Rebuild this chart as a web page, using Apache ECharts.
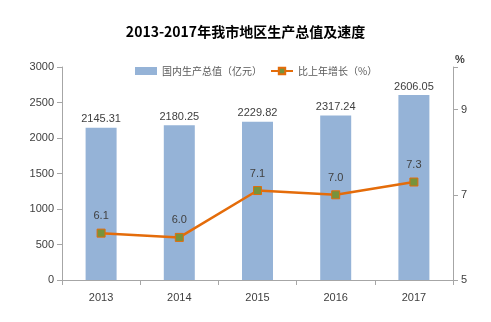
<!DOCTYPE html>
<html><head><meta charset="utf-8">
<script src="https://cdn.jsdelivr.net/npm/echarts@6/dist/echarts.min.js"></script>
<style>html,body{margin:0;padding:0;background:#fff}#c{width:491px;height:322px}</style>
</head><body><div id="c"></div>
<script>
var categories = ['2013','2014','2015','2016','2017'];
var gdpValues = [2145.31, 2180.25, 2229.82, 2317.24, 2606.05];
var growthValues = [6.1, 6.0, 7.1, 7.0, 7.3];
var leftTicks = [0, 500, 1000, 1500, 2000, 2500, 3000];
var rightTicks = [5, 7, 9];
var titleText = '2013-2017年我市地区生产总值及速度';
var gdpName = '国内生产总值（亿元）';
var growthName = '比上年增长（%）';

var chart = echarts.init(document.getElementById('c'));
var axisColor = '#a6a6a6';
var textColor = '#404040';
chart.setOption({
  animation: false,
  title: {text: titleText, left: 'center', top: 20,
    textStyle: {fontSize: 14, fontWeight: 'bold', color: '#000', fontFamily: 'Noto Sans CJK SC'}},
  legend: {top: 61, left: 130, itemWidth: 22, itemHeight: 8, itemGap: 8,
    textStyle: {fontSize: 10, color: '#595959', fontFamily: 'Noto Sans CJK SC'},
    data: [{name: gdpName, icon: 'rect'}, {name: growthName}]},
  grid: {left: 62, right: 38, top: 67, bottom: 42},
  xAxis: {type: 'category', data: categories,
    axisLine: {lineStyle: {color: axisColor}},
    axisTick: {show: true, lineStyle: {color: axisColor}},
    axisLabel: {color: textColor, fontSize: 11, margin: 12, fontFamily: 'Liberation Sans'}},
  yAxis: [{type: 'value', min: leftTicks[0], max: leftTicks[leftTicks.length-1], interval: 500,
      axisLine: {show: true, lineStyle: {color: axisColor}},
      axisTick: {show: true, lineStyle: {color: axisColor}},
      splitLine: {show: false},
      axisLabel: {color: textColor, fontSize: 11, fontFamily: 'Liberation Sans',
        formatter: function(v){ return String(v); }}},
    {type: 'value', min: 5, max: 10, interval: 2, position: 'right',
      name: '%', nameLocation: 'end', nameGap: 2,
      nameTextStyle: {color: textColor, fontSize: 11, fontWeight: 'bold', align: 'left', padding: [0,0,0,2]},
      axisLine: {show: true, lineStyle: {color: axisColor}},
      axisTick: {show: true, lineStyle: {color: axisColor}},
      splitLine: {show: false},
      axisLabel: {color: textColor, fontSize: 11, fontFamily: 'Liberation Sans',
        formatter: function(v){ return rightTicks.indexOf(v) >= 0 ? String(v) : ''; }}}],
  series: [{name: gdpName, type: 'bar', data: gdpValues, barWidth: 31,
      itemStyle: {color: '#95b3d7'},
      label: {show: true, position: 'top', distance: 3, color: textColor, fontSize: 11,
        fontFamily: 'Liberation Sans', formatter: function(p){ return p.value.toFixed(2); }}},
    {name: growthName, type: 'line', yAxisIndex: 1, data: growthValues,
      symbol: 'rect', symbolSize: 8,
      lineStyle: {color: '#e46c0a', width: 2.5},
      itemStyle: {color: '#77933c', borderColor: '#e46c0a', borderWidth: 1},
      label: {show: true, position: 'top', distance: 7, color: textColor, fontSize: 11,
        fontFamily: 'Liberation Sans', formatter: function(p){ return p.value.toFixed(1); }}}]
});
</script></body></html>
